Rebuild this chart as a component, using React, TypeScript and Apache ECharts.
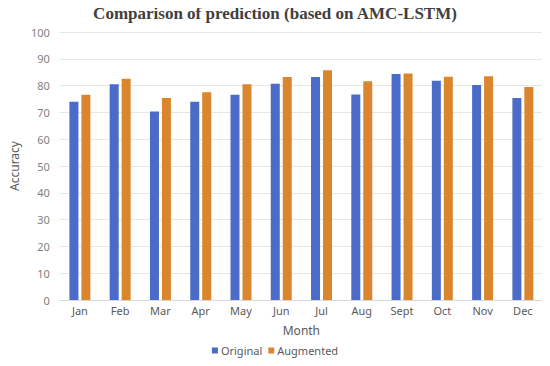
import React, { useEffect, useRef } from "react";
import * as echarts from "echarts";

const months = ["Jan", "Feb", "Mar", "Apr", "May", "Jun", "Jul", "Aug", "Sept", "Oct", "Nov", "Dec"];
const original = [74.0, 80.5, 70.3, 74.0, 76.6, 80.7, 83.2, 76.7, 84.3, 81.8, 80.2, 75.4];
const augmented = [76.6, 82.6, 75.4, 77.5, 80.5, 83.2, 85.7, 81.6, 84.5, 83.3, 83.5, 79.5];
const yTicks = { min: 0, max: 100, interval: 10 };

export default function App() {
  const ref = useRef<HTMLDivElement>(null);
  useEffect(() => {
    if (!ref.current) return;
    const chart = echarts.init(ref.current, null, { renderer: "svg" });
    chart.setOption({
      animation: false,
      title: {
        text: "Comparison of prediction (based on AMC-LSTM)",
        left: "center",
        top: 0,
        textStyle: { fontFamily: "Liberation Serif", fontWeight: "bold", fontSize: 17, color: "#404040" },
      },
      grid: { left: 47, right: 7, top: 32, bottom: 66 },
      legend: {
        bottom: 5,
        left: "center",
        itemWidth: 6,
        itemHeight: 6,
        itemGap: 6,
        icon: "rect",
        textStyle: { fontFamily: "Noto Sans", fontSize: 11, color: "#595959", padding: [0, 0, 0, -2] },
        data: ["Original", "Augmented"],
      },
      xAxis: {
        type: "category",
        data: months,
        name: "Month",
        nameLocation: "middle",
        nameGap: 24,
        nameTextStyle: { fontFamily: "Noto Sans", fontSize: 12, color: "#595959" },
        axisLine: { lineStyle: { color: "#d9d9d9" } },
        axisTick: { show: false },
        axisLabel: { fontFamily: "Noto Sans", fontSize: 11, color: "#595959", margin: 5 },
      },
      yAxis: {
        type: "value",
        min: yTicks.min,
        max: yTicks.max,
        interval: yTicks.interval,
        name: "Accuracy",
        nameLocation: "middle",
        nameGap: 32,
        nameTextStyle: { fontFamily: "Noto Sans", fontSize: 12, color: "#595959" },
        axisLine: { show: false },
        axisTick: { show: false },
        axisLabel: { fontFamily: "Noto Sans", fontSize: 11, color: "#7f7f7f", margin: 10 },
        splitLine: { lineStyle: { color: "#e6e6e6" } },
      },
      series: [
        { name: "Original", type: "bar", data: original, barWidth: 9, barGap: "33%", itemStyle: { color: "#4A6CC8" } },
        { name: "Augmented", type: "bar", data: augmented, barWidth: 9, itemStyle: { color: "#D9862E" } },
      ],
    });
    return () => chart.dispose();
  }, []);
  return <div ref={ref} style={{ width: 550, height: 366, margin: -8 }} />;
}
